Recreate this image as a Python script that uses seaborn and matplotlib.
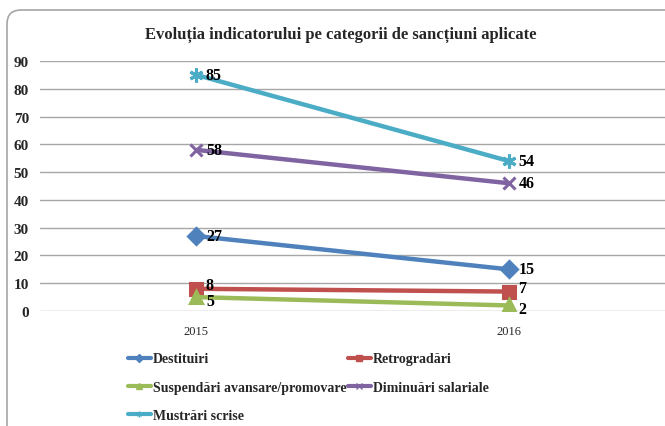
import pandas as pd
import numpy as np
import seaborn as sns
import matplotlib.pyplot as plt
import matplotlib.patches as mpatches
from matplotlib.lines import Line2D
from matplotlib.transforms import IdentityTransform

# Data
years = ['2015', '2016']
categories = ['Destituiri', 'Retrogradări', 'Suspendări avansare/promovare',
              'Diminuări salariale', 'Mustrări scrise']
values_2015 = [27, 8, 5, 58, 85]
values_2016 = [15, 7, 2, 46, 54]

# Excel 2010 style colours and markers
colors = ['#4F81BD', '#C0504D', '#9BBB59', '#8064A2', '#4BACC6']
markers = ['D', 's', '^', 'x', (6, 2, 0)]
marker_sizes = [8.5, 8.5, 9, 9, 10]

# Long form table for seaborn
rows = []
for i, cat in enumerate(categories):
    rows.append({'An': years[0], 'Valoare': values_2015[i], 'Categorie': cat})
    rows.append({'An': years[1], 'Valoare': values_2016[i], 'Categorie': cat})
df = pd.DataFrame(rows)

sns.set_theme(style='white')
plt.rcParams['font.family'] = ['Liberation Serif', 'DejaVu Serif']

fig = plt.figure(figsize=(6.65, 4.27), dpi=100)
ax = fig.add_axes([40 / 665, 1 - 312 / 427, 625 / 665, 250 / 427])

sns.lineplot(data=df, x='An', y='Valoare', hue='Categorie',
             hue_order=categories, palette=dict(zip(categories, colors)),
             marker='o', linewidth=3.2, legend=False, ax=ax)

# Marker shape and size per series
for line, m, ms, c in zip(ax.get_lines(), markers, marker_sizes, colors):
    line.set_marker(m)
    line.set_markersize(ms)
    line.set_markeredgewidth(2.2)
    line.set_markeredgecolor(c)
    line.set_markerfacecolor(c)

# Data labels to the right of each point
# small vertical nudge for the two crowded low series
nudge = [0, 2.5, -2.5, 0, 0]
for i, cat in enumerate(categories):
    for j, v in enumerate([values_2015[i], values_2016[i]]):
        ax.annotate(str(v), (j, v), xytext=(7, nudge[i]), textcoords='offset points',
                    ha='left', va='center', fontsize=11.5, fontweight='bold',
                    color='black')

ax.set_xlim(-0.5, 1.5)
ax.set_ylim(0, 90)
ax.set_yticks(range(0, 91, 10))
ax.yaxis.grid(True, color='#a6a6a6', linewidth=1)
ax.xaxis.grid(False)
for s in ax.spines.values():
    s.set_visible(False)
ax.tick_params(axis='y', length=0, pad=8, labelsize=11)
ax.tick_params(axis='x', length=0, pad=10, labelsize=9)
for lab in ax.get_yticklabels():
    lab.set_fontweight('bold')
ax.set_xlabel('')
ax.set_ylabel('')

# Title
fig.text(341 / 665, 1 - 35 / 427, 'Evoluția indicatorului pe categorii de sancțiuni aplicate',
         ha='center', va='center', fontsize=12, fontweight='bold')

# Legend in row order like Excel: fill column-first with reordered handles
handles = [Line2D([0], [0], color=c, lw=3, marker=m, markersize=4,
                  markerfacecolor=c, markeredgecolor=c)
           for c, m in zip(colors, markers)]
order = [0, 2, 4, 1, 3]
fig.legend([handles[k] for k in order], [categories[k] for k in order],
           loc='upper left', bbox_to_anchor=(115 / 665, 1 - 341 / 427),
           ncol=2, frameon=False, handlelength=1.7, handletextpad=0.15,
           columnspacing=0.05, labelspacing=1.1,
           prop={'family': 'Liberation Serif', 'weight': 'bold', 'size': 10})

# Rounded outer frame of the chart area
frame = mpatches.FancyBboxPatch((7, -60), 800, 476,
                                boxstyle='round,pad=0,rounding_size=14',
                                transform=IdentityTransform(), fill=False,
                                edgecolor='#a6a6a6', linewidth=1.2)
fig.add_artist(frame)

fig.savefig('out.png', dpi=100)
